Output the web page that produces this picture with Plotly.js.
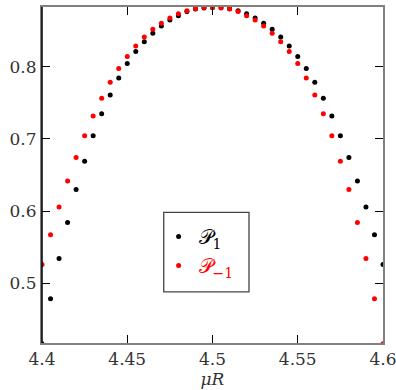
<!DOCTYPE html>
<html>
<head>
<meta charset="utf-8">
<script src="https://cdn.plot.ly/plotly-3.0.1.min.js"></script>
<style>html,body{margin:0;padding:0;background:#fff;}#chart{width:396px;height:390px;}</style>
</head>
<body>
<div id="chart"></div>
<script>
var muR = [4.400,4.405,4.410,4.415,4.420,4.425,4.430,4.435,4.440,4.445,
           4.450,4.455,4.460,4.465,4.470,4.475,4.480,4.485,4.490,4.495,
           4.500,4.505,4.510,4.515,4.520,4.525,4.530,4.535,4.540,4.545,
           4.550,4.555,4.560,4.565,4.570,4.575,4.580,4.585,4.590,4.595,4.600];
var P1 = [0.4158,0.478,0.534,0.584,0.630,0.669,0.7046,0.735,0.761,0.7847,
          0.8047,0.8214,0.835,0.847,0.8569,0.8653,0.871,0.877,0.8806,0.882,
          0.8825,0.8825,0.881,0.878,0.874,0.868,0.8607,0.8524,0.8417,0.8292,
          0.8144,0.7978,0.7788,0.7565,0.732,0.7046,0.6744,0.6417,0.6056,0.567,0.5256];
var Pm1 = [0.5256,0.567,0.6056,0.6417,0.6744,0.7046,0.732,0.7565,0.7788,0.7978,
           0.8144,0.8292,0.8417,0.8524,0.8607,0.868,0.874,0.878,0.881,0.8825,
           0.8825,0.882,0.8806,0.877,0.871,0.8653,0.8569,0.847,0.835,0.8214,
           0.8047,0.7847,0.761,0.735,0.7046,0.669,0.630,0.584,0.534,0.478,0.4158];
var xTicks = [4.4,4.45,4.5,4.55,4.6];
var xTickText = ['4.4','4.45','4.5','4.55','4.6'];
var yTicks = [0.5,0.6,0.7,0.8];
var yTickText = ['0.5','0.6','0.7','0.8'];

var font = '"DejaVu Serif", serif';
var traces = [
  {x: muR, y: P1, mode: 'markers', type: 'scatter',
   name: '\uD835\uDCAB<sub>1</sub>',
   marker: {color: '#000000', size: 5}},
  {x: muR, y: Pm1, mode: 'markers', type: 'scatter',
   name: '<span style="color:#ff0000">\uD835\uDCAB<sub>\u22121</sub></span>',
   marker: {color: '#ff0000', size: 5}}
];
var layout = {
  width: 396, height: 390,
  margin: {l: 42, r: 13, t: 7, b: 47},
  font: {family: font, size: 17, color: '#333'},
  paper_bgcolor: '#ffffff', plot_bgcolor: '#ffffff',
  showlegend: true,
  legend: {x: 0.342, y: 0.375, xanchor: 'left', yanchor: 'top',
           bgcolor: 'rgba(0,0,0,0)', borderwidth: 0,
           font: {family: font, size: 20, color: '#000'}},
  xaxis: {range: [4.4, 4.6], tickvals: xTicks, ticktext: xTickText,
          ticks: 'inside', ticklen: 8, tickwidth: 1, tickcolor: '#000',
          ticklabeloverflow: 'allow',
          showline: true, linecolor: '#808080', linewidth: 2, mirror: 'allticks',
          showgrid: false, zeroline: false,
          tickfont: {family: font, size: 17, color: '#333'},
          title: {text: '<i>\u03BCR</i>', font: {family: font, size: 17, color: '#333'}, standoff: 5}},
  yaxis: {range: [0.4167, 0.8833], tickvals: yTicks, ticktext: yTickText,
          ticks: 'inside', ticklen: 8, tickwidth: 1, tickcolor: '#000',
          ticklabeloverflow: 'allow',
          showline: true, linecolor: '#808080', linewidth: 2, mirror: 'allticks',
          showgrid: false, zeroline: false,
          tickfont: {family: font, size: 17, color: '#333'}},
  shapes: [
    {type: 'line', xref: 'paper', yref: 'paper', x0: 0, x1: 0, y0: 0, y1: 1,
     line: {color: '#000', width: 1.5}, layer: 'above'},
    {type: 'rect', xref: 'paper', yref: 'paper', x0: 0.357, x1: 0.607, y0: 0.152, y1: 0.389,
     line: {color: '#444', width: 1.3}, layer: 'above'}
  ]
};
Plotly.newPlot('chart', traces, layout, {displayModeBar: false, staticPlot: true});
</script>
</body>
</html>
